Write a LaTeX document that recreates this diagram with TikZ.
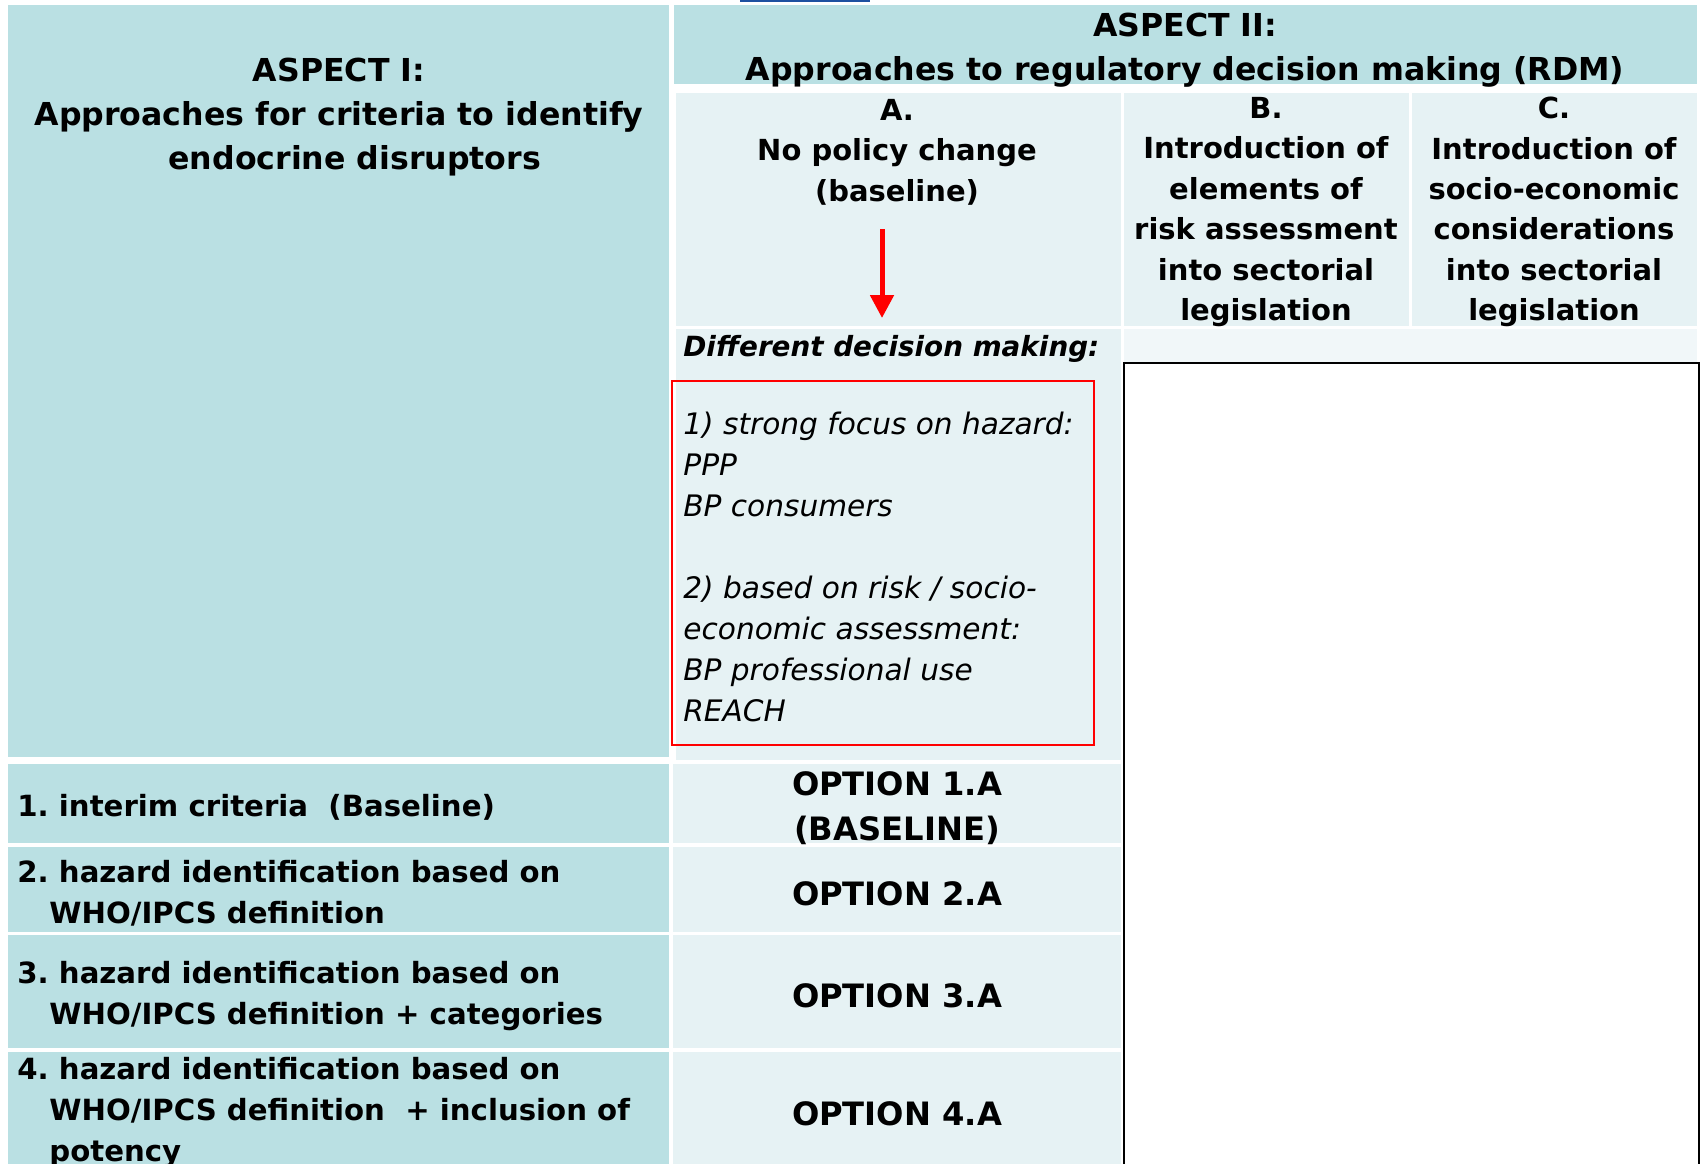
\documentclass[tikz,border=0pt]{standalone}
\usepackage{fontspec}
\setmainfont{DejaVu Sans}
\usetikzlibrary{arrows.meta}
\frenchspacing
\definecolor{aspectblue}{RGB}{186,224,227}
\definecolor{optionblue}{RGB}{230,242,244}
\definecolor{paleblue}{RGB}{241,247,249}
\definecolor{markblue}{RGB}{30,80,160}
\tikzstyle{head} = [font=\bfseries\fontsize{15.8}{22.2}\selectfont, align=center, inner sep=0pt]
\tikzstyle{colhead} = [font=\bfseries\fontsize{14.5}{20.2}\selectfont, align=center, inner sep=0pt]
\tikzstyle{crit} = [font=\bfseries\fontsize{14.6}{20.5}\selectfont, align=left, anchor=west, inner sep=0pt]
\tikzstyle{option} = [font=\bfseries\fontsize{16.1}{22.5}\selectfont, align=center, inner sep=0pt]
\tikzstyle{note} = [font=\itshape\fontsize{14.8}{20.5}\selectfont, align=left, anchor=west, inner sep=0pt]
\tikzstyle{line} = [draw, red, line width=2.5pt, -{Triangle[length=11.5pt,width=11.5pt]}]

\begin{document}
\begin{tikzpicture}[x=0.5pt, y=-0.5pt]
    \useasboundingbox (0,0) rectangle (1708,1163);
    % table cells
    \fill[markblue] (740,0) rectangle (870,2);
    \fill[aspectblue] (8,5) rectangle (669,757);
    \fill[aspectblue] (674,5) rectangle (1697,84);
    \fill[optionblue] (676,93) rectangle (1121,326);
    \fill[optionblue] (1124,93) rectangle (1409,326);
    \fill[optionblue] (1412,93) rectangle (1697,326);
    \fill[optionblue] (676,329) rectangle (1121,760);
    \fill[paleblue] (1124,329) rectangle (1697,362);
    \foreach \top/\bot in {764/843, 847/932, 935/1048, 1052/1175} {
        \fill[aspectblue] (8,\top) rectangle (669,\bot);
        \fill[optionblue] (673,\top) rectangle (1121,\bot);
    }
    \draw[black, line width=1pt] (1124,363) rectangle (1699,1180);
    \draw[red, line width=1pt] (672,381) rectangle (1094,745);

    % headers
    \node[head] (aspectone) at (339,117) {ASPECT I:\\Approaches for criteria to identify\\\hspace*{15.8pt}endocrine disruptors};
    \node[head] (aspecttwo) at (1185,50) {ASPECT II:\\Approaches to regulatory decision making (RDM)};
    \node[colhead] (colA) at (897,152) {A.\\No policy change\\(baseline)};
    \node[colhead] (colB) at (1266,212) {B.\\Introduction of\\elements of\\risk assessment\\into sectorial\\legislation};
    \node[colhead] (colC) at (1554,212) {C.\\Introduction of\\socio-economic\\considerations\\into sectorial\\legislation};

    % baseline A
    \coordinate (arrowtop) at (882,229);
    \coordinate (arrowtip) at (882,318);
    \path[line] (arrowtop) -- (arrowtip);
    \node[font=\bfseries\itshape\fontsize{13.9}{19}\selectfont, anchor=west, inner sep=0pt] (different) at (683,349) {Different decision making:};
    \node[note] (making) at (683,567) {1) strong focus on hazard:\\PPP\\BP consumers\\[20.5pt]2) based on risk / socio-\\economic assessment:\\BP professional use\\REACH};

    % criteria and options
    \node[crit] (crit1) at (17,807) {1. interim criteria\ \ (Baseline)};
    \node[crit] (crit2) at (17,893) {2. hazard identification based on\\\hspace*{16pt}WHO/IPCS definition};
    \node[crit] (crit3) at (17,996) {3. hazard identification based on\\\hspace*{16pt}WHO/IPCS definition + categories};
    \node[crit] (crit4) at (17,1113) {4. hazard identification based on\\\hspace*{16pt}WHO/IPCS definition\ \ + inclusion of\\\hspace*{16pt}potency};
    \node[option] (opt1) at (897,808) {OPTION 1.A\\(BASELINE)};
    \node[option] (opt2) at (897,894) {OPTION 2.A};
    \node[option] (opt3) at (897,996) {OPTION 3.A};
    \node[option] (opt4) at (897,1114) {OPTION 4.A};
\end{tikzpicture}
\end{document}
